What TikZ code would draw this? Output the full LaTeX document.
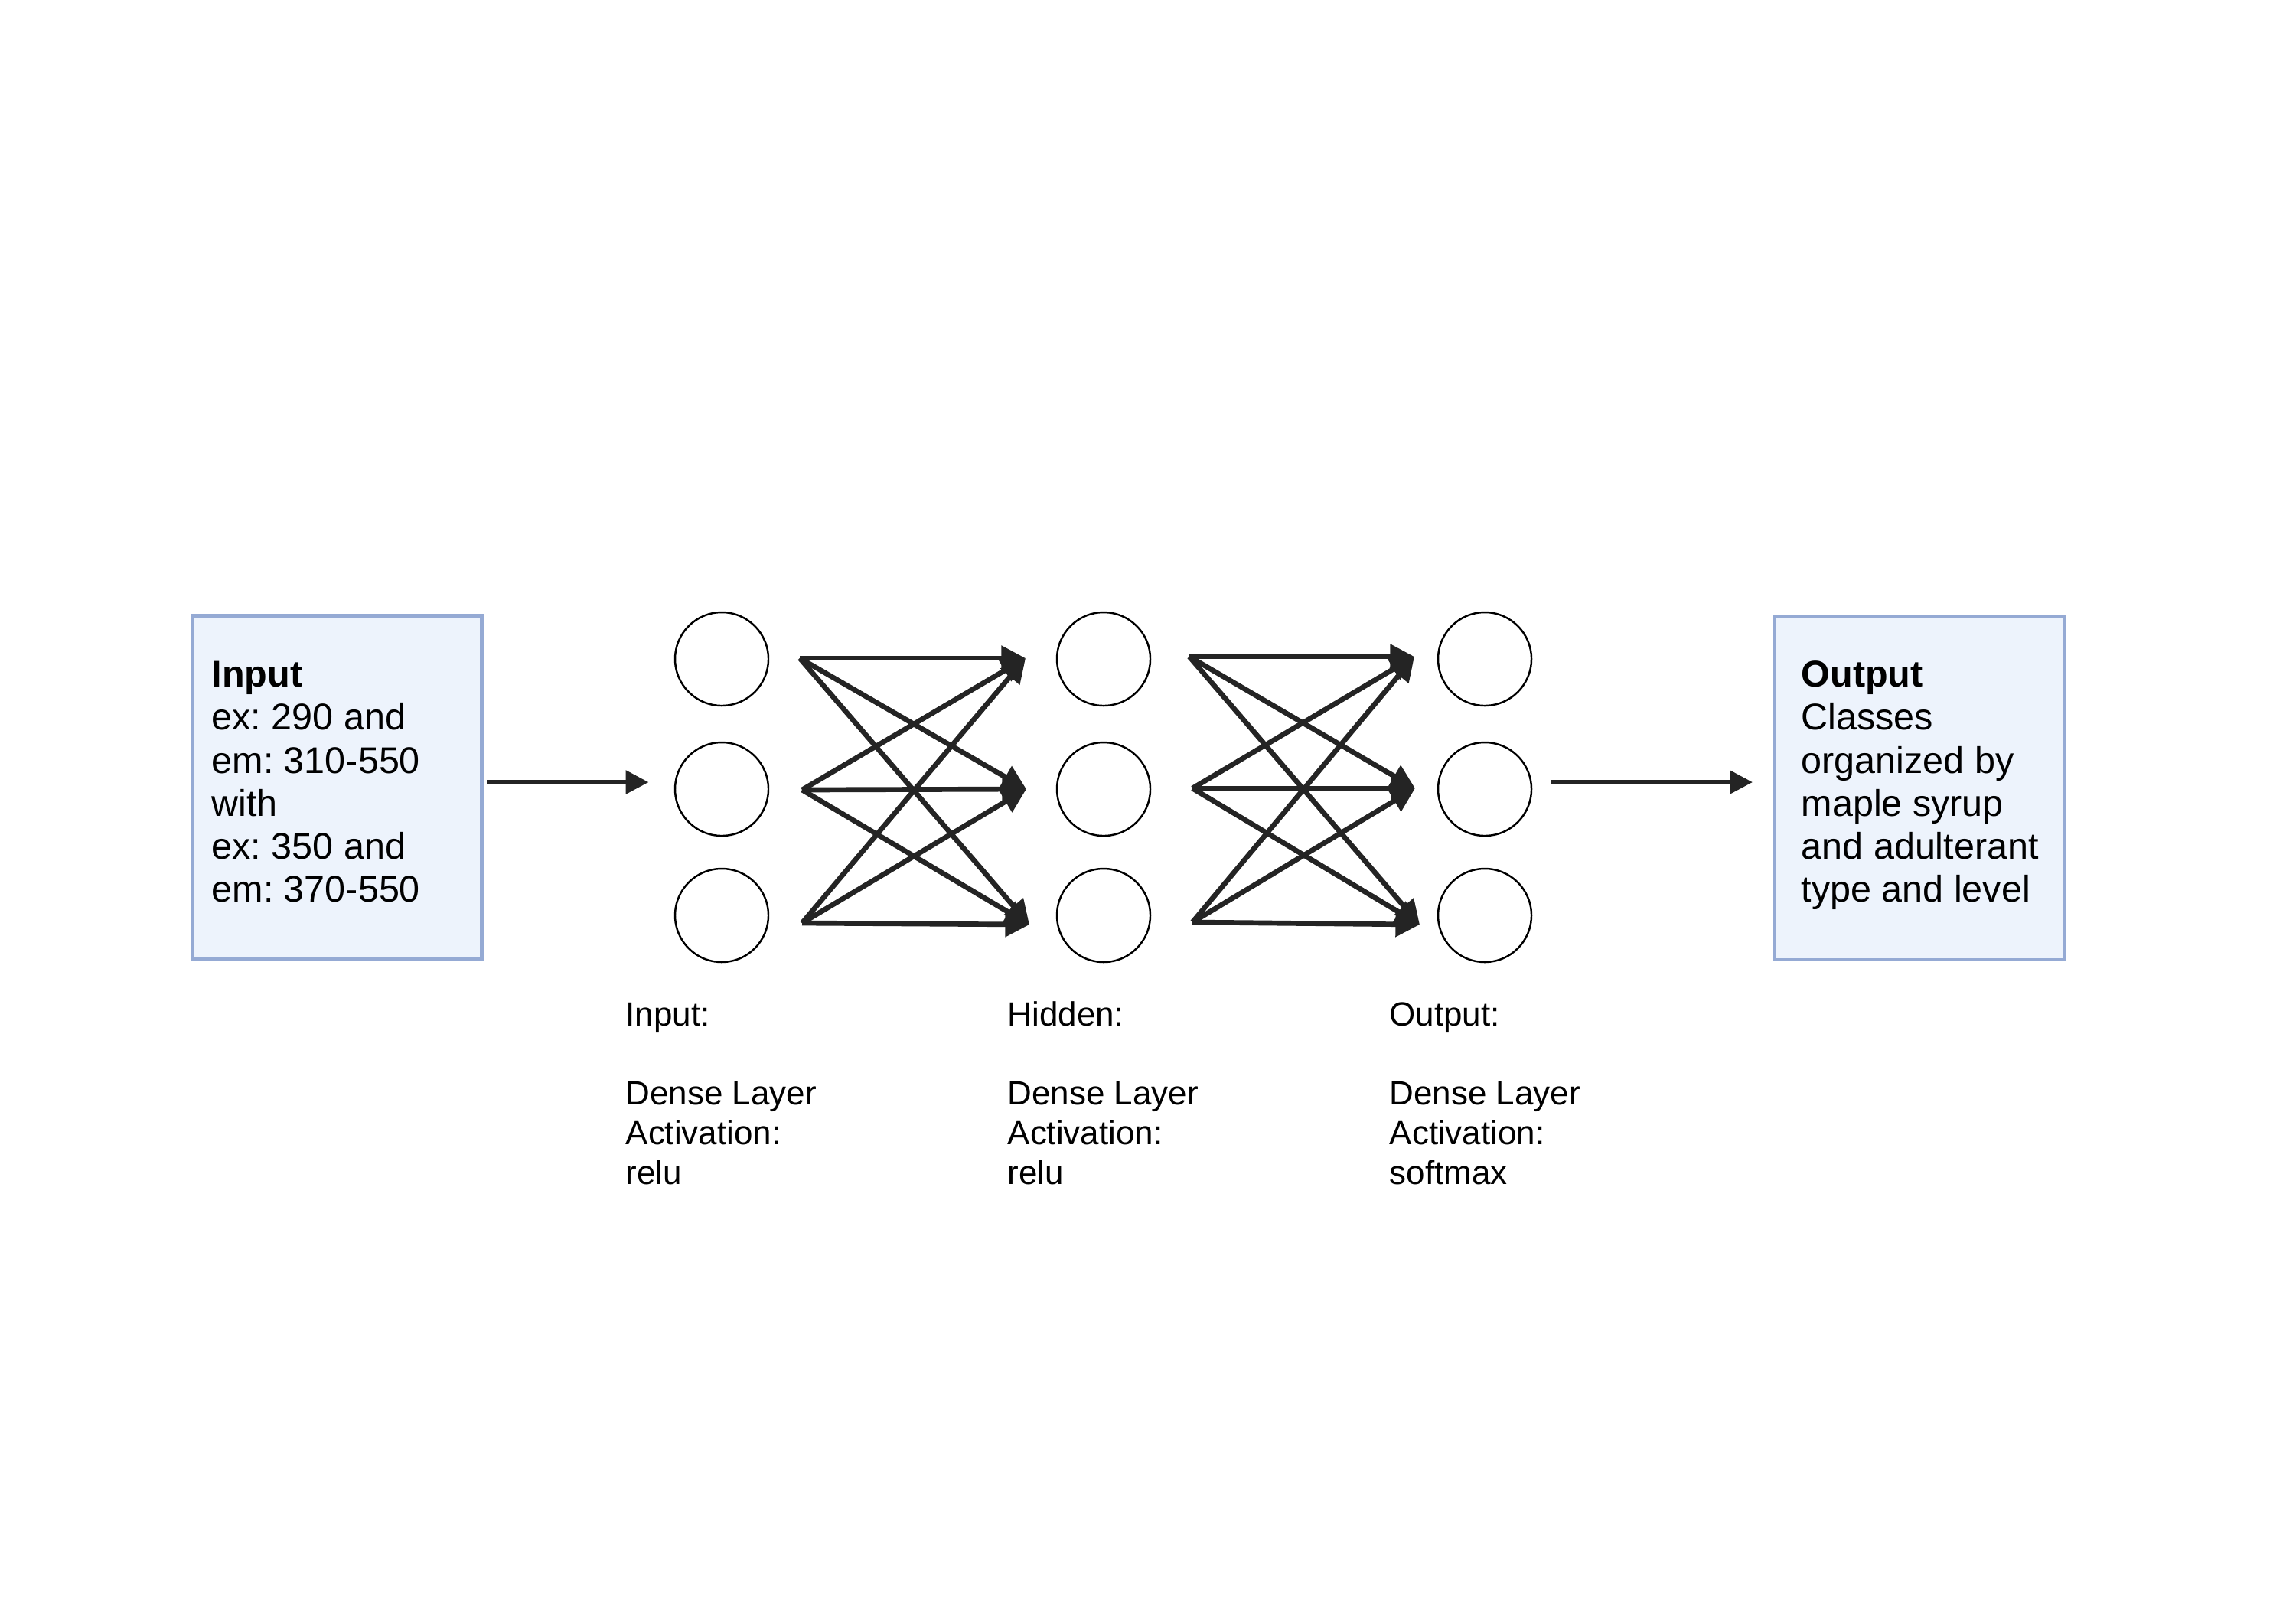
\documentclass[tikz,border=0pt]{standalone}
\usepackage{fontspec}
\setmainfont{Liberation Sans}
\usetikzlibrary{arrows.meta,calc}
\definecolor{boxfill}{HTML}{EDF3FC}
\definecolor{boxline}{HTML}{95AAD4}
\definecolor{ink}{HTML}{242424}
\frenchspacing
\begin{document}
\begin{tikzpicture}[x=1cm,y=1cm,
  neuron/.style={circle, draw=black, line width=0.7pt, minimum size=1.22cm, inner sep=0pt},
  iobox/.style={rectangle, draw=boxline, fill=boxfill, line width=1.4pt, minimum width=3.78cm, minimum height=4.49cm, inner sep=0pt},
  link/.style={draw=ink, line width=1.9pt, -{Triangle[length=9pt,width=9pt]}},
  flow/.style={draw=ink, line width=1.7pt, -{Triangle[length=8.5pt,width=8.5pt]}},
  boxtext/.style={anchor=north west, inner sep=0pt, align=left, font=\fontsize{13.8}{16}\selectfont},
  laytext/.style={anchor=north west, inner sep=0pt, align=left, font=\fontsize{12.5}{14.7}\selectfont}]
\useasboundingbox[fill=white] (0,0) rectangle (30,-21);

% boxes
\node[iobox] (inbox) at (4.405,-10.29) {};
\node[iobox] (outbox) at (25.08,-10.295) {};
\node[boxtext] (intext) at (2.76,-8.575) {\strut\textbf{Input}\\ex: 290 and\\em: 310-550\\with\\ex: 350 and\\em: 370-550};
\node[boxtext] (outtext) at (23.53,-8.575) {\strut\textbf{Output}\\Classes\\organized by\\maple syrup\\and adulterant\\type and level};

% neurons
\foreach \c/\x in {i/9.43,h/14.42,o/19.40}{
  \node[neuron] (\c1) at (\x,-8.61) {};
  \node[neuron] (\c2) at (\x,-10.31) {};
  \node[neuron] (\c3) at (\x,-11.96) {};
}

% connector end points
\coordinate (a1) at (10.45,-8.60);
\coordinate (a2) at (10.48,-10.32);
\coordinate (a3) at (10.48,-12.06);
\coordinate (b1) at (13.40,-8.60);
\coordinate (b2) at (13.41,-10.31);
\coordinate (b3) at (13.45,-12.08);
\coordinate (c1) at (15.54,-8.58);
\coordinate (c2) at (15.58,-10.30);
\coordinate (c3) at (15.58,-12.05);
\coordinate (d1) at (18.48,-8.58);
\coordinate (d2) at (18.49,-10.30);
\coordinate (d3) at (18.55,-12.08);

\foreach \s in {1,2,3}{
  \foreach \t in {1,2,3}{
    \draw[link] (a\s) -- (b\t);
    \draw[link] (c\s) -- (d\t);
  }
}

% main flow arrows
\coordinate (inA) at (6.36,-10.22);
\coordinate (inB) at (8.475,-10.22);
\coordinate (outA) at (20.27,-10.22);
\coordinate (outB) at (22.90,-10.22);
\draw[flow] (inA) -- (inB);
\draw[flow] (outA) -- (outB);

% layer labels
\node[laytext] (lin) at (8.17,-13.037) {\strut Input:\\\mbox{}\\Dense Layer\\Activation:\\relu};
\node[laytext] (lhid) at (13.16,-13.037) {\strut Hidden:\\\mbox{}\\Dense Layer\\Activation:\\relu};
\node[laytext] (lout) at (18.15,-13.037) {\strut Output:\\\mbox{}\\Dense Layer\\Activation:\\softmax};
\end{tikzpicture}
\end{document}
